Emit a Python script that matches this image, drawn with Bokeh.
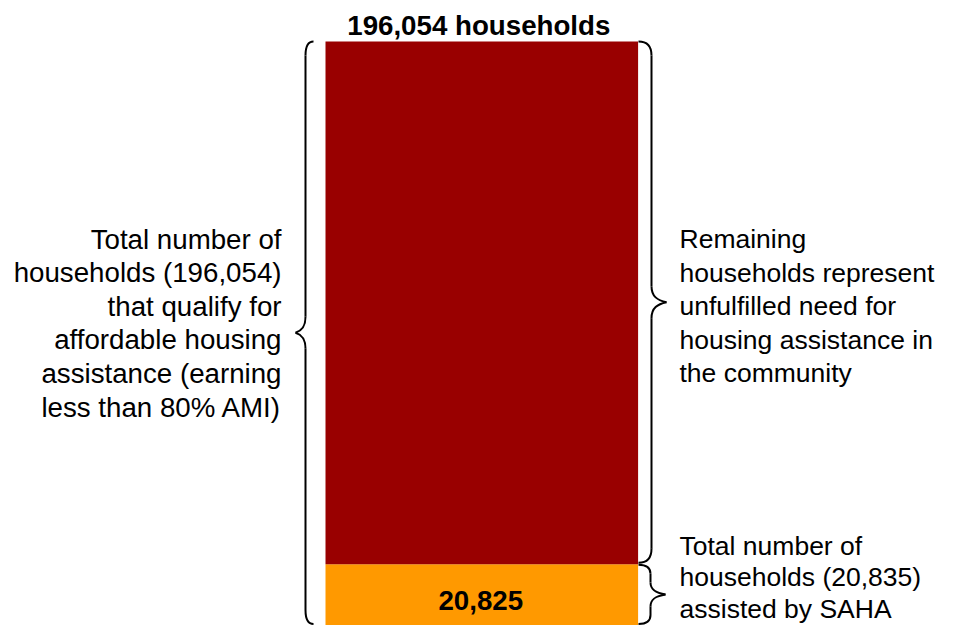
from bokeh.plotting import figure
from bokeh.models import Range1d
from bokeh.core.properties import value
from bokeh.embed import file_html
from bokeh.resources import INLINE

# ---- data ----
total_households = 196054
assisted_households = 20825
assisted_label = "20,825"
title_text = "196,054 households"
left_lines = ["Total number of", "households (196,054)", "that qualify for",
              "affordable housing", "assistance (earning", "less than 80% AMI)"]
right_lines = ["Remaining", "households represent", "unfulfilled need for",
               "housing assistance in", "the community"]
bottom_lines = ["Total number of", "households (20,835)", "assisted by SAHA"]
colors = {"remaining": "#990000", "assisted": "#FF9900"}

# ---- layout ----
W, H = 938, 625
base_px = 626          # picture y of value 0
top_px = 41            # picture y of total
k = total_households / (base_px - top_px)   # households per pixel


def py(sy):
    return (base_px - sy) * k


p = figure(width=W, height=H, output_backend="svg", toolbar_location=None,
           x_range=Range1d(0, W), y_range=Range1d(py(H), py(0)),
           min_border=0, outline_line_color=None)
p.axis.visible = False
p.grid.visible = False
p.background_fill_color = "white"
p.border_fill_color = "white"

bar_x = 481.3
bar_w = 312.6
p.vbar(x=[bar_x], width=bar_w, bottom=[0], top=[assisted_households],
       fill_color=colors["assisted"], line_color=None)
p.vbar(x=[bar_x], width=bar_w, bottom=[assisted_households], top=[total_households],
       fill_color=colors["remaining"], line_color=None)

font = value("Liberation Sans")
fs = "27.7px"
fs_r = "26.5px"
p.text(x=[bar_x - 3], y=[py(25)], text=[title_text], text_font=font,
       text_font_size=fs, text_font_style="bold", text_align="center",
       text_baseline="middle", text_color="black")
p.text(x=[bar_x - 1], y=[py(600)], text=[assisted_label], text_font=font,
       text_font_size=fs, text_font_style="bold", text_align="center",
       text_baseline="middle", text_color="black")

lh = 33.6
p.text(x=[281] * len(left_lines), y=[py(238.5 + i * lh) for i in range(len(left_lines))],
       text=left_lines, text_font=font, text_font_size=fs, text_align="right",
       text_baseline="middle", text_color="black")
p.text(x=[679] * len(right_lines), y=[py(238.5 + i * lh) for i in range(len(right_lines))],
       text=right_lines, text_font=font, text_font_size=fs_r, text_align="left",
       text_baseline="middle", text_color="black")
p.text(x=[679] * len(bottom_lines), y=[py(545 + i * 31.5) for i in range(len(bottom_lines))],
       text=bottom_lines, text_font=font, text_font_size=fs_r, text_align="left",
       text_baseline="middle", text_color="black")


def brace(xe, xl, xt, v0, v1, re=14, rm=16):
    y0, y1 = v0, v1
    ym = (y0 + y1) / 2
    R, M = re * k, rm * k
    dx = xt - xl
    # ends
    p.quadratic(x0=[xe, xl], y0=[y1, y0 + R], x1=[xl, xe], y1=[y1 - R, y0],
                cx=[xl, xl], cy=[y1, y0], line_color="black", line_width=2)
    # vertical parts
    p.segment(x0=[xl, xl], y0=[y1 - R, ym - M], x1=[xl, xl], y1=[ym + M, y0 + R],
              line_color="black", line_width=2)
    # tip
    p.bezier(x0=[xl, xt], y0=[ym + M, ym], x1=[xt, xl], y1=[ym, ym - M],
             cx0=[xl, xl + 0.4 * dx], cy0=[ym + 0.35 * M, ym - 0.12 * M],
             cx1=[xl + 0.4 * dx, xl], cy1=[ym + 0.12 * M, ym - 0.35 * M],
             line_color="black", line_width=2)


brace(313, 305, 295, 2.5 * k, total_households)
brace(638, 651, 666, assisted_households + 1.5 * k, total_households)
brace(638, 650, 665, 2.5 * k, assisted_households - 0.5 * k, re=9, rm=12)

open("out.html", "w").write(file_html(p, INLINE))
